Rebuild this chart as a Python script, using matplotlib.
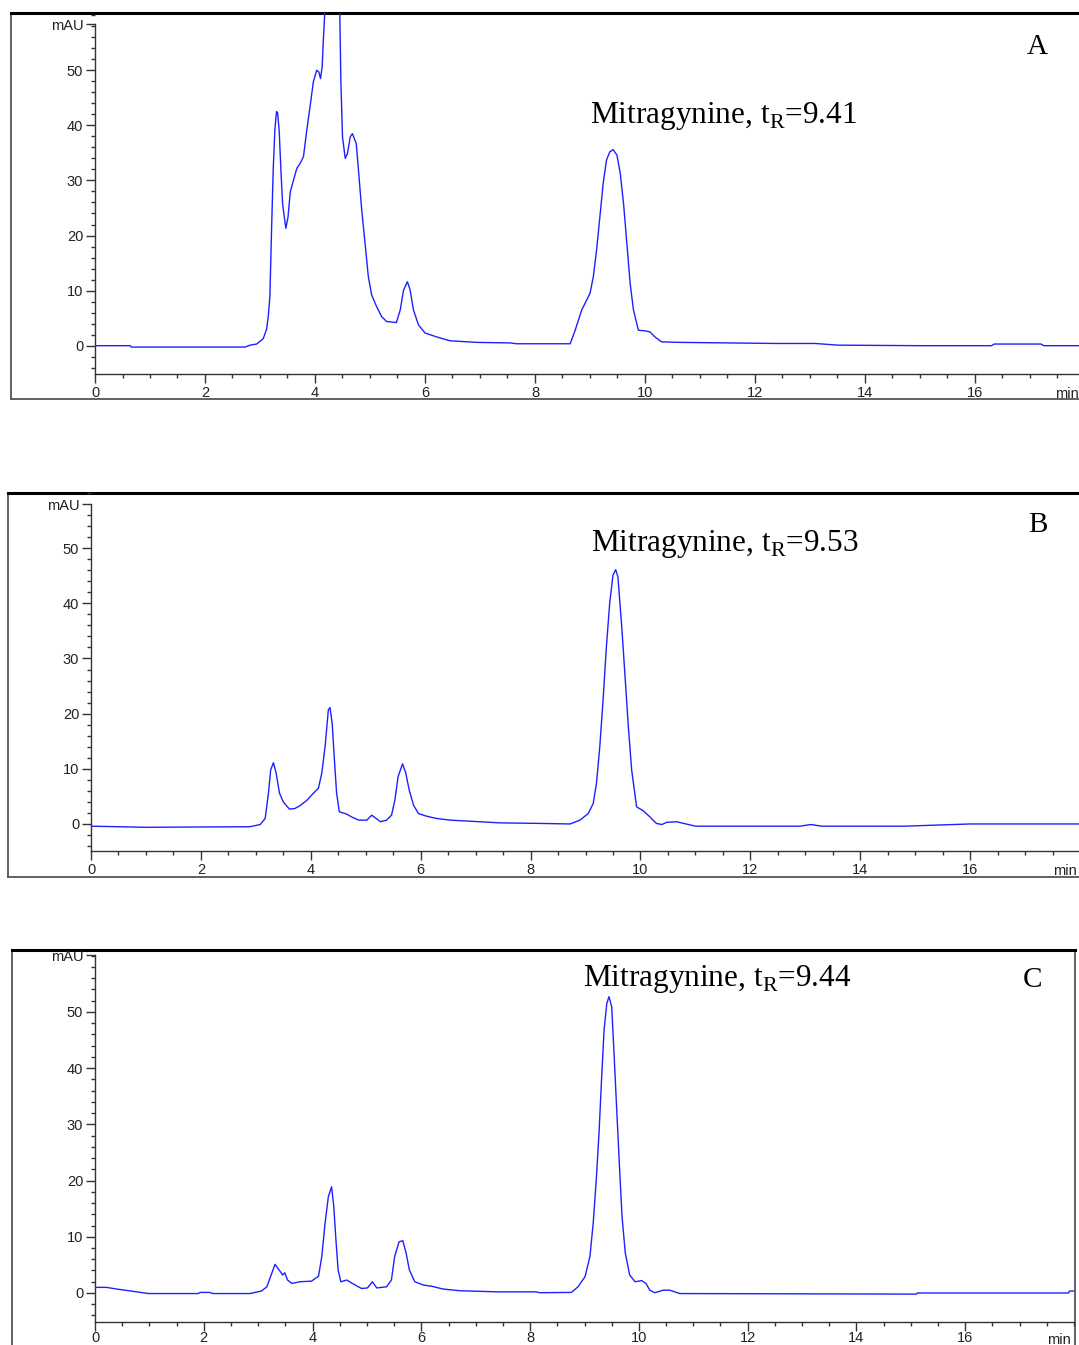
import numpy as np
import matplotlib
matplotlib.use("Agg")
import matplotlib.pyplot as plt
from matplotlib.ticker import MultipleLocator

plt.rcParams['font.family'] = ['Liberation Sans', 'DejaVu Sans']
plt.rcParams['mathtext.fontset'] = 'custom'
plt.rcParams['mathtext.rm'] = 'Liberation Serif'

# chromatogram A (time in min, absorbance in mAU)
time_a = [0, 0.64, 0.66, 2.73, 2.82, 2.94, 3.06, 3.12, 3.15, 3.18, 3.21, 3.24, 3.27, 3.30, 3.32,
          3.35, 3.38, 3.41, 3.47, 3.51, 3.55, 3.61, 3.67, 3.73, 3.79, 3.85, 3.91, 3.97, 4.03, 4.07,
          4.10, 4.13, 4.15, 4.18, 4.25, 4.32, 4.40, 4.45, 4.47, 4.50, 4.55, 4.59, 4.64, 4.68, 4.75,
          4.79, 4.85, 4.91, 4.97, 5.03, 5.12, 5.21, 5.30, 5.48, 5.55, 5.61, 5.68, 5.73, 5.79, 5.88,
          6.00, 6.21, 6.45, 6.94, 7.55, 7.67, 8.64, 8.73, 8.85, 9.00, 9.06, 9.12, 9.18, 9.24, 9.30,
          9.36, 9.42, 9.49, 9.55, 9.61, 9.67, 9.73, 9.79, 9.88, 10.00, 10.09, 10.18, 10.30, 10.64,
          12.40, 13.10, 13.50, 15.00, 16.30, 16.35, 17.20, 17.25, 18.00]
mau_a = [0.0, 0.0, -0.25, -0.25, 0.1, 0.3, 1.3, 3.0, 5.3, 9.0, 21.0, 31.9, 39.1, 42.5, 42.3,
         38.8, 31.9, 25.8, 21.3, 23.4, 27.9, 30.1, 32.2, 33.1, 34.3, 39.1, 43.4, 47.9, 50.0, 49.7,
         48.5, 50.6, 55.2, 60.9, 72.0, 78.0, 70.0, 61.0, 48.2, 37.9, 34.0, 34.9, 37.9, 38.5, 36.7,
         31.9, 24.6, 18.6, 12.5, 9.2, 7.1, 5.3, 4.4, 4.2, 6.5, 10.1, 11.6, 10.1, 6.5, 3.8,
         2.3, 1.6, 0.9, 0.6, 0.5, 0.35, 0.35, 2.8, 6.5, 9.5, 12.5, 17.4, 23.4, 29.5, 33.7,
         35.2, 35.6, 34.6, 31.3, 25.8, 18.6, 11.3, 6.5, 2.8, 2.7, 2.5, 1.6, 0.7, 0.6,
         0.4, 0.4, 0.1, 0.0, 0.0, 0.3, 0.3, 0.0, 0.0]

# chromatogram B
time_b = [0, 1.0, 2.89, 3.08, 3.17, 3.23, 3.27, 3.32, 3.37, 3.43, 3.50, 3.61, 3.71, 3.80, 3.93,
          4.05, 4.14, 4.20, 4.26, 4.32, 4.35, 4.39, 4.43, 4.47, 4.52, 4.65, 4.74, 4.87, 5.02, 5.11,
          5.19, 5.27, 5.38, 5.47, 5.53, 5.59, 5.67, 5.73, 5.79, 5.87, 5.96, 6.11, 6.29, 6.53, 6.90,
          7.44, 8.17, 8.72, 8.90, 9.05, 9.14, 9.20, 9.26, 9.32, 9.38, 9.44, 9.50, 9.55, 9.59, 9.66,
          9.72, 9.78, 9.84, 9.93, 10.05, 10.17, 10.29, 10.39, 10.48, 10.66, 11.0, 12.9, 13.1, 13.3,
          14.8, 16.0, 18.0]
mau_b = [-0.4, -0.6, -0.5, -0.1, 1.0, 5.6, 9.8, 11.1, 9.2, 5.6, 4.0, 2.7, 2.8, 3.3, 4.3,
         5.6, 6.5, 9.2, 14.0, 20.7, 21.1, 18.2, 11.6, 5.6, 2.2, 1.8, 1.3, 0.7, 0.7, 1.6,
         1.0, 0.4, 0.7, 1.6, 4.3, 8.6, 10.9, 9.2, 6.2, 3.4, 1.9, 1.4, 1.0, 0.7, 0.5,
         0.2, 0.1, 0.0, 0.7, 1.9, 3.7, 7.4, 14.0, 22.5, 32.1, 40.0, 45.1, 46.1, 44.8, 35.7,
         26.7, 17.6, 9.8, 3.1, 2.4, 1.3, 0.1, -0.1, 0.3, 0.4, -0.4, -0.4, -0.1, -0.4,
         -0.4, 0.0, 0.0]

# chromatogram C
time_c = [0, 0.21, 0.40, 0.77, 0.98, 1.90, 1.93, 2.11, 2.17, 2.85, 3.06, 3.16, 3.25, 3.31, 3.40,
          3.45, 3.49, 3.54, 3.62, 3.77, 3.98, 4.11, 4.17, 4.23, 4.29, 4.35, 4.39, 4.43, 4.47, 4.52,
          4.63, 4.75, 4.90, 5.01, 5.10, 5.18, 5.36, 5.45, 5.51, 5.59, 5.66, 5.72, 5.78, 5.88, 6.04,
          6.19, 6.40, 6.71, 7.41, 8.11, 8.18, 8.76, 8.88, 9.01, 9.10, 9.16, 9.22, 9.27, 9.31, 9.36,
          9.41, 9.45, 9.50, 9.54, 9.59, 9.64, 9.69, 9.75, 9.83, 9.93, 10.05, 10.13, 10.20, 10.29,
          10.45, 10.57, 10.75, 15.10, 15.12, 17.90, 17.92, 18.0]
mau_c = [1.0, 1.0, 0.7, 0.2, -0.1, -0.1, 0.1, 0.1, -0.1, -0.1, 0.35, 1.1, 3.5, 5.1, 3.9,
         3.2, 3.6, 2.3, 1.7, 2.0, 2.1, 3.0, 6.5, 12.4, 17.1, 18.9, 15.4, 9.4, 4.1, 2.0,
         2.3, 1.6, 0.8, 0.9, 2.0, 0.9, 1.1, 2.3, 6.5, 9.1, 9.3, 7.1, 4.1, 2.0, 1.4,
         1.2, 0.7, 0.4, 0.2, 0.2, 0.05, 0.1, 1.1, 2.9, 6.5, 12.4, 20.7, 29.0, 37.3, 46.8,
         51.5, 52.7, 50.9, 43.2, 33.1, 23.1, 13.6, 7.1, 3.2, 2.0, 2.2, 1.7, 0.5, 0.05,
         0.5, 0.5, -0.1, -0.2, 0.0, 0.0, 0.35, 0.35]

panel_letters = ["A", "B", "C"]
retention_times = ["9.41", "9.53", "9.44"]
y_ticks = [0, 10, 20, 30, 40, 50]
x_ticks = [0, 2, 4, 6, 8, 10, 12, 14, 16]

W, H = 1079, 1345
fig = plt.figure(figsize=(W / 100, H / 100), dpi=100)


def box(left, top, right, bottom):
    return [left / W, 1 - bottom / H, (right - left) / W, (bottom - top) / H]


# per panel: frame box, axes box, y limits, where the "mAU" tick sits, label positions
panels = [
    dict(t=time_a, v=mau_a, frame=(10.5, 13, 1110, 399.5), axes=(95, 13, 1085, 374),
         ylim=(-5.14, 60.4), mau=58.4, text=(590, 123), letter=(1037, 47), right=False,
         min_x=17.88, pad=2),
    dict(t=time_b, v=mau_b, frame=(7.5, 493, 1110, 877), axes=(91, 493, 1080, 851),
         ylim=(-4.9, 60.0), mau=58.0, text=(591, 551), letter=(1038, 525), right=False,
         min_x=17.95, pad=2),
    dict(t=time_c, v=mau_c, frame=(12, 950, 1074.5, 1400), axes=(95, 950, 1074, 1322),
         ylim=(-5.16, 61.0), mau=60.1, text=(583, 986), letter=(1032, 980), right=True,
         min_x=17.95, pad=0.3),
]

for i, p in enumerate(panels):
    fr = fig.add_axes(box(*p["frame"]))
    fr.set_xticks([])
    fr.set_yticks([])
    fr.patch.set_alpha(0)
    fr.spines["top"].set_color("black")
    fr.spines["top"].set_linewidth(2.2)
    for s in ["left", "bottom", "right"]:
        fr.spines[s].set_color("#555555")
        fr.spines[s].set_linewidth(1.3)
    fr.spines["right"].set_visible(p["right"])

    ax = fig.add_axes(box(*p["axes"]))
    ax.patch.set_alpha(0)
    ax.plot(p["t"], p["v"], color="#1f1fff", lw=1.0)
    ax.set_xlim(0, 18)
    ax.set_ylim(*p["ylim"])
    for s in ["top", "right"]:
        ax.spines[s].set_visible(False)
    for s in ["left", "bottom"]:
        ax.spines[s].set_color("#333333")
        ax.spines[s].set_linewidth(1.0)
    ax.spines["left"].set_bounds(p["ylim"][0], p["mau"])

    ax.set_yticks(y_ticks + [p["mau"]])
    ax.set_yticklabels([str(v) for v in y_ticks] + ["mAU"])
    ax.yaxis.set_minor_locator(MultipleLocator(2))
    ax.set_xticks(x_ticks)
    ax.set_xticklabels([str(v) for v in x_ticks])
    ax.xaxis.set_minor_locator(MultipleLocator(0.5))
    ax.tick_params(axis="both", which="major", length=6.5, width=1.0, color="#333333",
                   labelsize=10.5, labelcolor="#222222", pad=2)
    ax.tick_params(axis="x", which="major", pad=p["pad"])
    ax.tick_params(axis="both", which="minor", length=3, width=1.0, color="#333333")
    ax.text(p["min_x"], -0.035 + (0.005 if p["pad"] < 1 else 0), "min",
            transform=ax.get_xaxis_transform(), ha="right", va="top",
            fontsize=10.5, color="#222222")

    tx, ty = p["text"]
    fig.text(tx / W, 1 - ty / H, r"Mitragynine, t$_{\mathrm{R}}$=" + retention_times[i],
             family="Liberation Serif", fontsize=22.5, ha="left", va="baseline")
    lx, ly = p["letter"]
    fig.text(lx / W, 1 - ly / H, panel_letters[i], family="Liberation Serif",
             fontsize=21, ha="center", va="center")

fig.savefig("out.png", dpi=100, facecolor="white")
